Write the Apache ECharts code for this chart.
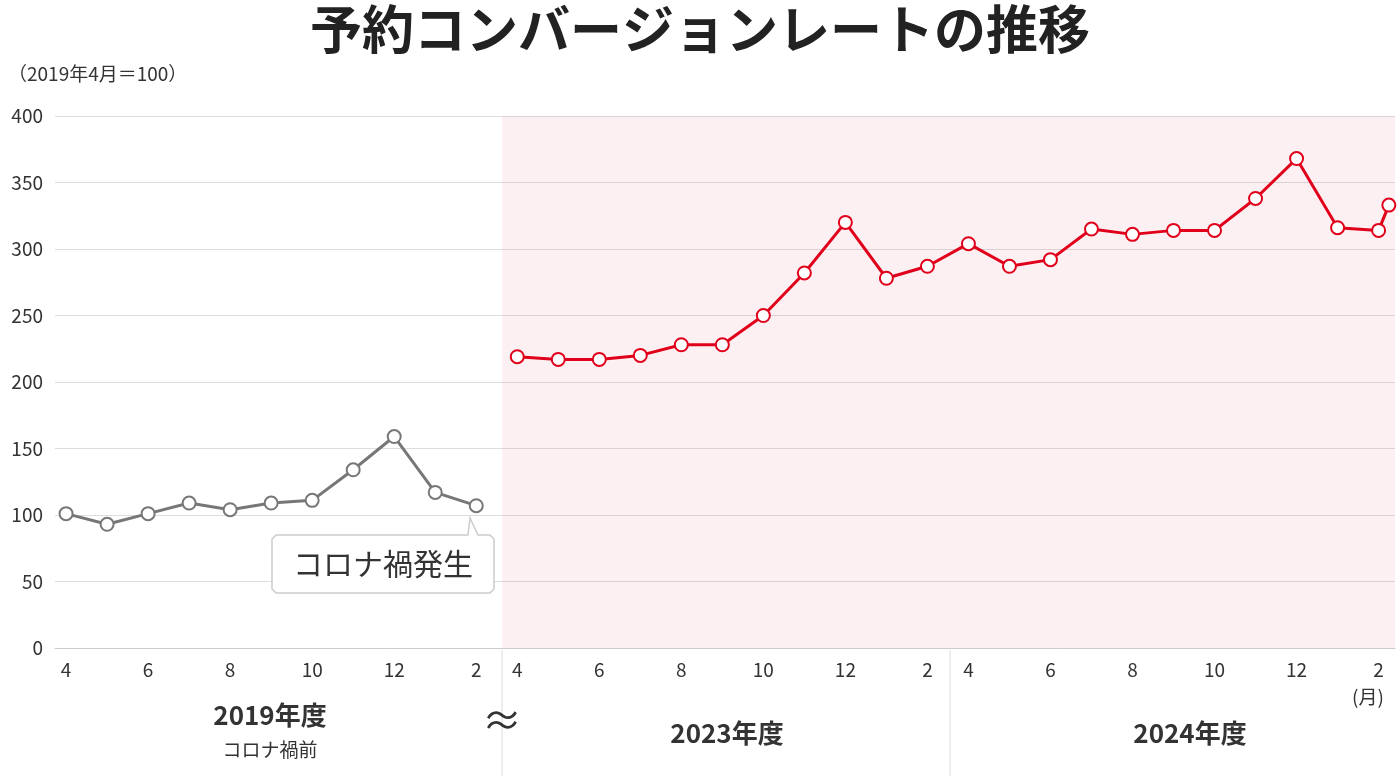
<!DOCTYPE html>
<html><head><meta charset="utf-8">
<script src="https://cdn.jsdelivr.net/npm/echarts@6/dist/echarts.min.js"></script>
<style>body{margin:0}#c{width:1400px;height:776px}</style></head>
<body><div id="c"></div>
<script>
const yTicks=[0,50,100,150,200,250,300,350,400];
const gray2019=[101,93,101,109,104,109,111,134,159,117,107];
const red2023=[219,217,217,220,228,228,250,282,320,278,287];
const red2024=[304,287,292,315,311,314,314,338,368,316,314];
const red2024Mar=333;
const monthLabels=['4','6','8','10','12','2'];
const toPts=(arr,start)=>arr.map((v,i)=>[start+i,v]);
const redData=toPts(red2023,11).concat(toPts(red2024,22)).concat([[32.25,red2024Mar]]);
const tickPos=[];const tickLab={};
[0,11,22].forEach(s=>{for(let k=0;k<6;k++){tickPos.push(s+2*k);tickLab[s+2*k]=monthLabels[k];}});
const F='"Noto Sans CJK JP","Noto Sans",sans-serif';
const c=echarts.init(document.getElementById('c'));
c.setOption({
 textStyle:{fontFamily:F},
 title:{text:'予約コンバージョンレートの推移',left:'center',top:-2,textStyle:{fontSize:52,fontWeight:'bold',color:'#222',fontFamily:F}},
 grid:{left:55,right:5,top:116,bottom:128},
 xAxis:{type:'value',min:-0.27,max:32.4,
  axisLine:{show:true,lineStyle:{color:'#ccc'}},axisTick:{show:false},splitLine:{show:false},
  axisLabel:{customValues:tickPos,formatter:v=>tickLab[Math.round(v)]||'',fontSize:19,color:'#333',margin:12}},
 yAxis:{type:'value',min:0,max:400,interval:50,
  axisLine:{show:false},axisTick:{show:false},
  splitLine:{lineStyle:{color:'#ddd'}},
  axisLabel:{fontSize:19,color:'#333',margin:12}},
 series:[
  {type:'line',data:toPts(gray2019,0),symbol:'emptyCircle',symbolSize:13,
   lineStyle:{color:'#777',width:3},itemStyle:{color:'#777',borderWidth:3},z:3},
  {type:'line',data:redData,symbol:'emptyCircle',symbolSize:13,
   lineStyle:{color:'#e0001b',width:3},itemStyle:{color:'#e0001b',borderWidth:3},z:3,
   markArea:{silent:true,itemStyle:{color:'rgba(224,0,27,0.06)'},data:[[{xAxis:10.63,yAxis:400},{xAxis:32.4,yAxis:0}]]}}
 ],
 graphic:[
  {type:'text',left:8,top:64,style:{text:'（2019年4月＝100）',fontSize:19,fill:'#333',fontFamily:F}},
  {type:'line',shape:{x1:502,y1:650,x2:502,y2:776},style:{stroke:'#ddd',lineWidth:1}},
  {type:'line',shape:{x1:950,y1:650,x2:950,y2:776},style:{stroke:'#ddd',lineWidth:1}},
  {type:'text',x:270,y:715,style:{text:'2019年度',fontSize:26,fontWeight:'bold',fill:'#333',align:'center',verticalAlign:'middle',fontFamily:F}},
  {type:'text',x:270,y:750,style:{text:'コロナ禍前',fontSize:19,fill:'#333',align:'center',verticalAlign:'middle',fontFamily:F}},
  {type:'text',x:727,y:733,style:{text:'2023年度',fontSize:26,fontWeight:'bold',fill:'#333',align:'center',verticalAlign:'middle',fontFamily:F}},
  {type:'text',x:1190,y:733,style:{text:'2024年度',fontSize:26,fontWeight:'bold',fill:'#333',align:'center',verticalAlign:'middle',fontFamily:F}},
  {type:'text',x:502,y:720,style:{text:'≈',fontSize:40,fill:'#333',align:'center',verticalAlign:'middle',fontFamily:F}},
  {type:'text',x:1368,y:697,style:{text:'(月)',fontSize:19,fill:'#333',align:'center',verticalAlign:'middle',fontFamily:F}},
  {type:'polygon',shape:{points:[[276,535],[468,535],[470,518],[478,535],[490,535],[494,539],[494,589],[490,593],[276,593],[272,589],[272,539]]},
   style:{fill:'#fff',stroke:'#ccc',lineWidth:1.5},z:10},
  {type:'text',x:383,y:564,z:11,style:{text:'コロナ禍発生',fontSize:30,fill:'#333',align:'center',verticalAlign:'middle',fontFamily:F}}
 ]
});
</script></body></html>
